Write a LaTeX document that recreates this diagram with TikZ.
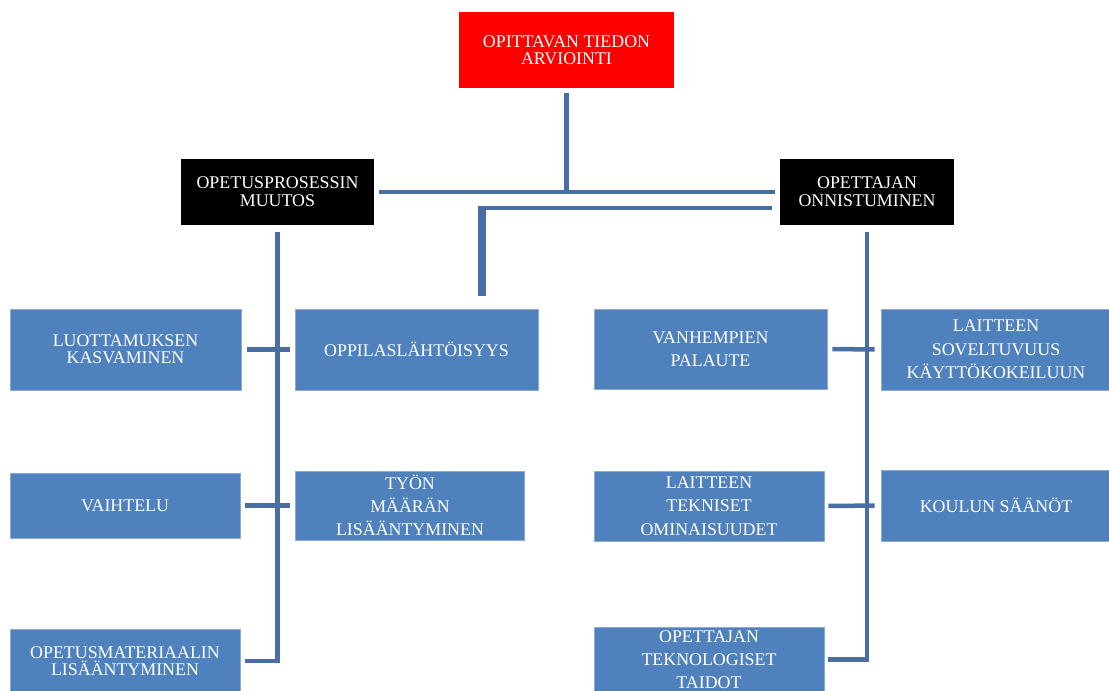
\documentclass[tikz,border=0pt]{standalone}
\usepackage{fontspec}
\setmainfont{Liberation Serif}
\usepackage{tikz}
\usetikzlibrary{positioning,calc}
\definecolor{orgred}{RGB}{255,0,0}
\definecolor{orgblue}{RGB}{79,129,189}
\definecolor{orgedge}{RGB}{140,170,210}
\definecolor{orgline}{RGB}{72,110,164}
\def\px{0.75pt}

\begin{document}
\begin{tikzpicture}[x=0.75pt, y=-0.75pt,
  orgbox/.style={inner sep=0pt, align=center, text=white},
  conn/.style={draw=orgline, line width=4.5*\px}]

\path[use as bounding box, fill=white] (0,0) rectangle (1109,690);

% ================= heads =================
\node[orgbox, fill=orgred, minimum width=215*\px, minimum height=76*\px,
      font=\fontsize{13.4}{13}\selectfont] (top) at (566.5,50) {OPITTAVAN TIEDON\\ARVIOINTI};
\node[orgbox, fill=black, minimum width=193*\px, minimum height=66*\px,
      font=\fontsize{13.4}{13.5}\selectfont] (opl) at (277.5,192) {OPETUSPROSESSIN\\MUUTOS};
\node[orgbox, fill=black, minimum width=174*\px, minimum height=66*\px,
      font=\fontsize{13.4}{13.5}\selectfont] (opo) at (867,192) {OPETTAJAN\\ONNISTUMINEN};

% ================= factors =================
% name / centre x / centre y / width / height / line skip / text
\foreach \nm/\cx/\cy/\w/\h/\ls/\txt in {%
  luo/125.5/349.5/231/81/13/{LUOTTAMUKSEN\\KASVAMINEN},
  opp/416.5/349.5/243/81/13/{OPPILASLÄHTÖISYYS},
  vai/125/505.5/230/65/13/{VAIHTELU},
  tyo/410/505.5/229/69/17.5/{TYÖN\\MÄÄRÄN\\LISÄÄNTYMINEN},
  omat/125/661/230/64/13/{OPETUSMATERIAALIN\\LISÄÄNTYMINEN},
  van/710.5/349/233/80/17.5/{VANHEMPIEN\\PALAUTE},
  lso/996/349.5/230/81/17.5/{LAITTEEN\\SOVELTUVUUS\\KÄYTTÖKOKEILUUN},
  ltek/709/506/230/70/17.5/{LAITTEEN\\TEKNISET\\OMINAISUUDET},
  kou/996/505.5/230/71/13/{KOULUN SÄÄNÖT},
  otek/709/659.5/230/64/17.5/{OPETTAJAN\\TEKNOLOGISET\\TAIDOT}}
  \node[orgbox, fill=orgblue, draw=orgedge, line width=0.5pt,
        minimum width=\w*\px, minimum height=\h*\px,
        font=\fontsize{13.4}{\ls}\selectfont] (\nm) at (\cx,\cy) {\txt};

% ================= connectors =================
\draw[conn, shorten <=5*\px] (top.south) -- (top.south |- opl.east);
\draw[conn, shorten <=5*\px, shorten >=5*\px] (opl.east) -- (opo.west);

% second branch down to the learner box
\coordinate (kink) at (482,208);
\draw[conn, shorten <=8*\px] ([yshift=-16*\px]opo.west) -- ($(kink)+(-4,0)$);
\draw[conn, line width=8*\px, shorten >=13*\px] ($(kink)+(0,-2.25)$) -- (kink |- opp.north);

% left trunk
\draw[conn, shorten <=7*\px, shorten >=5*\px] (opl.south) -- (opl.south |- omat.east) -- (omat.east);
\draw[conn, shorten <=6*\px, shorten >=5*\px] (luo.east) -- (opp.west);
\draw[conn, shorten <=5*\px, shorten >=5*\px] (vai.east) -- (tyo.west);

% right trunk
\draw[conn, shorten <=7*\px, shorten >=4*\px] (opo.south) -- (opo.south |- otek.east) -- (otek.east);
\draw[conn, shorten <=5*\px, shorten >=6*\px] (van.east) -- (lso.west);
\draw[conn, shorten <=4*\px, shorten >=6*\px] (ltek.east) -- (kou.west);
\end{tikzpicture}
\end{document}
